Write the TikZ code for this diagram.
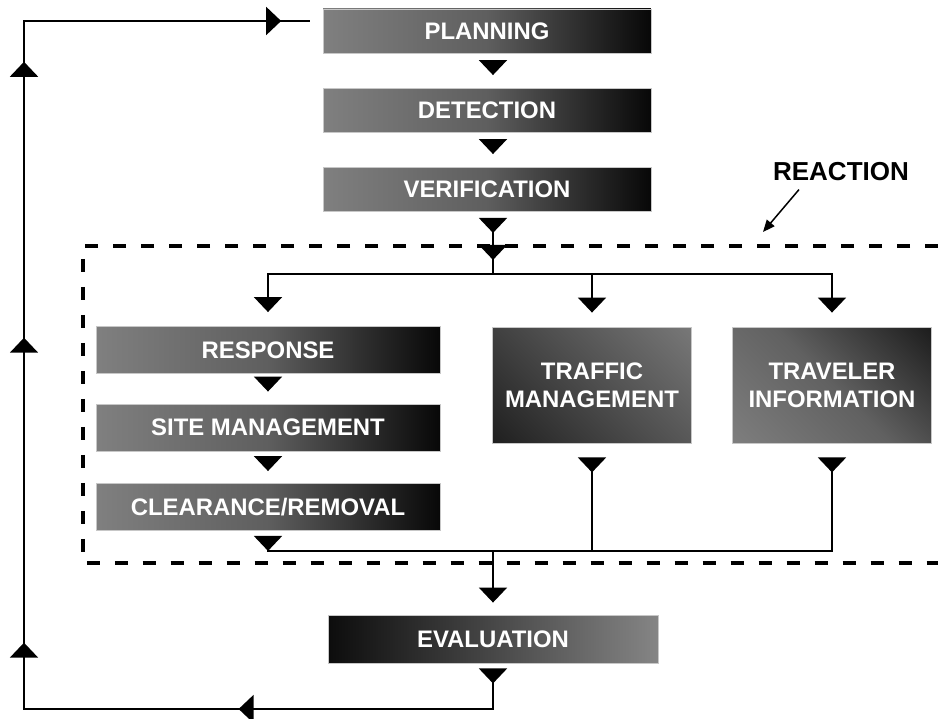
\documentclass[tikz,border=0pt]{standalone}
\usepackage{fontspec}
\setmainfont{Liberation Sans}
\usetikzlibrary{arrows.meta,decorations.markings}

% corner to corner fades for the square boxes
\pgfdeclareverticalshading{rampdark}{100bp}{color(0bp)=(black!46);
	color(50bp)=(black!62); color(100bp)=(black)}
\pgfdeclareverticalshading{ramplight}{100bp}{color(0bp)=(black!95);
	color(50bp)=(black!70); color(100bp)=(black!46)}

\tikzset{
	tri/.tip={Triangle[length=0.3cm,width=0.56cm]},
	rtri/.tip={Triangle[reversed,length=0.3cm,width=0.56cm]},
	stage/.style={rectangle, draw=black!22, line width=0.5pt, text=white, align=center,
		inner sep=0pt, font=\bfseries\fontsize{13.6}{15.9}\selectfont},
	darkup/.style={stage, shade, shading=rampdark, shading angle=-45},
	lightup/.style={stage, shade, shading=ramplight, shading angle=-45},
	darkfade/.style={stage, left color=black!50, right color=black!97, middle color=black!63},
	lightfade/.style={stage, left color=black!95, right color=black!48, middle color=black!72},
	wide/.style={minimum width=6.56cm, minimum height=0.88cm},
	bar/.style={minimum width=6.88cm, minimum height=0.94cm},
	block/.style={minimum width=3.98cm, minimum height=2.32cm},
	link/.style={line width=0.04cm},
	flow/.style={link, -tri},
	outflow/.style={link, rtri-},
	ticks/.style={postaction={decorate, decoration={markings, #1}}},
	frame/.style={line width=0.075cm, dash pattern=on 0.27cm off 0.29cm},
	pointer/.style={line width=0.03cm, -{Triangle[length=0.24cm,width=0.2cm]}}
}

\begin{document}
\begin{tikzpicture}[x=0.02cm, y=-0.02cm]
	
	\path[fill=white] (0,0) rectangle (938,719);
	\useasboundingbox (0,0) rectangle (938,719);
	
	\coordinate (spine) at (493,0);
	\coordinate (split) at (493,274);
	\coordinate (merge) at (493,551);
	\coordinate (sw) at (24,709);
	\coordinate (back) at (310,21);
	\coordinate (hint) at (763,232);
	
	\draw[frame] (938,246) -- (83,246) -- (83,563) -- (938,563);
	
	\node[darkfade, wide] (plan) at (487,31) {PLANNING};
	\node[darkfade, wide] (detect) at (487,110.5) {DETECTION};
	\node[darkfade, wide] (verify) at (487,189.5) {VERIFICATION};
	\node[darkfade, bar] (resp) at (268,350) {RESPONSE};
	\node[darkfade, bar] (site) at (268,427.5) {SITE MANAGEMENT};
	\node[darkfade, bar] (clear) at (268,507) {CLEARANCE/REMOVAL};
	\node[lightup, block] (traffic) at (592,385) {TRAFFIC\\MANAGEMENT};
	\node[darkup, block] (traveler) at (832,385) {TRAVELER\\INFORMATION};
	\node[lightfade, minimum width=6.6cm, minimum height=0.96cm] (eval) at (493,639) {EVALUATION};
	\node[inner sep=0pt, font=\bfseries\fontsize{14.8}{17}\selectfont] (reaction) at (841,172) {REACTION};
	
	\draw[flow, shorten <=0.14cm, shorten >=0.26cm] (plan.south -| spine) -- (detect.north -| spine);
	\draw[flow, shorten <=0.14cm, shorten >=0.26cm] (detect.south -| spine) -- (verify.north -| spine);
	\draw[outflow, shorten <=0.12cm, ticks={mark=at position 0.96cm with {\arrow{tri}}}]
		(verify.south -| spine) -- (split);
	\draw[flow, shorten >=0.28cm] (split) -| (resp.north);
	\draw[flow, shorten >=0.28cm] (split) -| (traffic.north);
	\draw[flow, shorten >=0.28cm] (split) -| (traveler.north);
	
	\draw[flow, shorten <=0.08cm, shorten >=0.24cm] (resp) -- (site);
	\draw[flow, shorten <=0.1cm, shorten >=0.24cm] (site) -- (clear);
	\draw[outflow, shorten <=0.1cm] (clear.south) |- (merge);
	\draw[outflow, shorten <=0.28cm] (traffic.south) |- (merge);
	\draw[outflow, shorten <=0.28cm] (traveler.south) |- (merge);
	\draw[flow, shorten >=0.24cm] (merge) -- (eval.north);
	
	% feedback loop back to planning
	\draw[outflow, shorten <=0.1cm, ticks={mark=at position 6cm with {\arrow{tri}},
		mark=at position 11.62cm with {\arrow{tri}}, mark=at position 17.72cm with {\arrow{tri}},
		mark=at position 23.24cm with {\arrow{tri}}, mark=at position 29.2cm with {\arrow{tri}}}]
		(eval.south) |- (sw) |- (back);
	
	\draw[pointer] ([xshift=-0.84cm,yshift=-0.16cm]reaction.south) -- (hint);
	
\end{tikzpicture}
\end{document}
